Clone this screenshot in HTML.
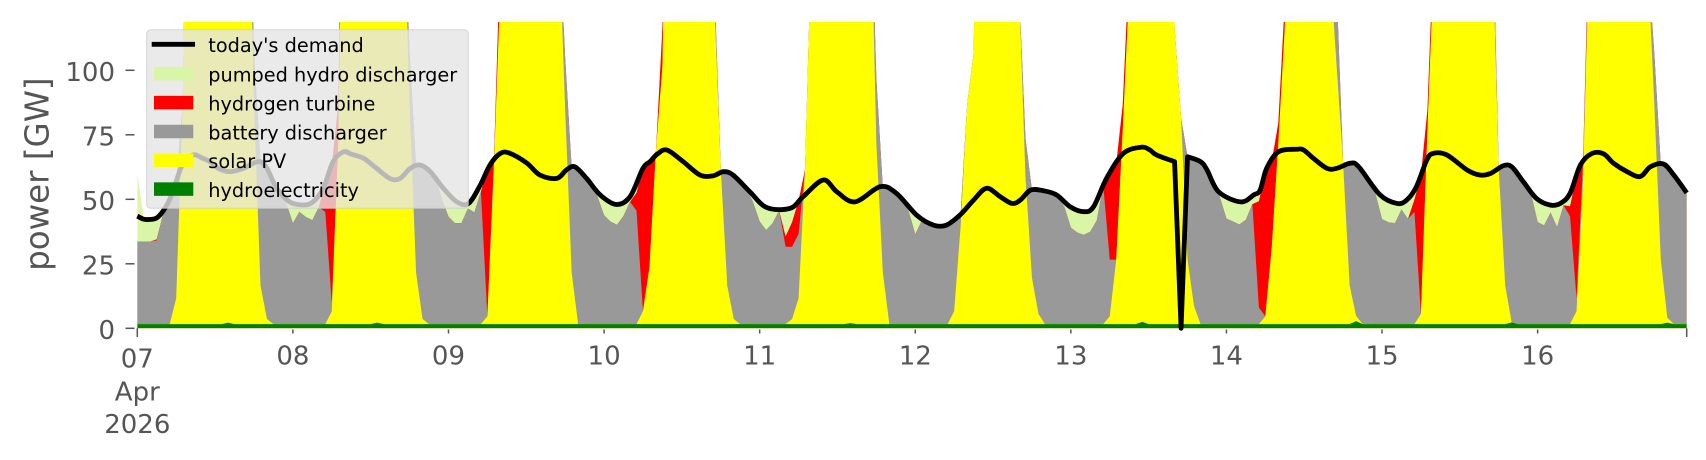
<!DOCTYPE html>
<html><head><meta charset="utf-8">
<style>
html,body{margin:0;padding:0;background:#fff;width:1706px;height:460px;overflow:hidden}
svg{display:block}
.t{font-family:"DejaVu Sans","Liberation Sans",sans-serif}
</style></head><body>
<svg id="s" width="1706" height="460" viewBox="0 0 1706 460" xmlns="http://www.w3.org/2000/svg">
<defs><clipPath id="cp"><rect x="137.3" y="22" width="1549.4" height="306.3"/></clipPath></defs>
<rect width="1706" height="460" fill="#fff"/>
<g id="areas" clip-path="url(#cp)"></g>
<path id="dl" fill="none" stroke="#000" stroke-width="4.8" stroke-linejoin="round" d=""/>

<g stroke="#555" stroke-width="1.5">
<line x1="125.5" x2="134.5" y1="328.3" y2="328.3"/>
<line x1="125.5" x2="134.5" y1="263.8" y2="263.8"/>
<line x1="125.5" x2="134.5" y1="199.3" y2="199.3"/>
<line x1="125.5" x2="134.5" y1="134.8" y2="134.8"/>
<line x1="125.5" x2="134.5" y1="70.3" y2="70.3"/>
<line x1="137.3" x2="137.3" y1="328.3" y2="337"/>
<line x1="1686.7" x2="1686.7" y1="328.3" y2="337"/>
<line x1="292.89" x2="292.89" y1="329.5" y2="333.5"/>
<line x1="448.48" x2="448.48" y1="329.5" y2="333.5"/>
<line x1="604.08" x2="604.08" y1="329.5" y2="333.5"/>
<line x1="759.67" x2="759.67" y1="329.5" y2="333.5"/>
<line x1="915.26" x2="915.26" y1="329.5" y2="333.5"/>
<line x1="1070.85" x2="1070.85" y1="329.5" y2="333.5"/>
<line x1="1226.44" x2="1226.44" y1="329.5" y2="333.5"/>
<line x1="1382.04" x2="1382.04" y1="329.5" y2="333.5"/>
<line x1="1537.63" x2="1537.63" y1="329.5" y2="333.5"/>
</g>

<g class="t" fill="#555" font-size="26" text-anchor="end">
<text x="115" y="338.8">0</text>
<text x="115" y="274.3">25</text>
<text x="115" y="209.8">50</text>
<text x="115" y="145.3">75</text>
<text x="115" y="80.8">100</text>
</g>
<g class="t" fill="#555" font-size="26" text-anchor="middle">
<text x="137.3" y="367.5">07</text>
<text x="137.3" y="400.5">Apr</text>
<text x="137.3" y="433">2026</text>
<text x="292.89" y="364.5">08</text>
<text x="448.48" y="364.5">09</text>
<text x="604.08" y="364.5">10</text>
<text x="759.67" y="364.5">11</text>
<text x="915.26" y="364.5">12</text>
<text x="1070.85" y="364.5">13</text>
<text x="1226.44" y="364.5">14</text>
<text x="1382.04" y="364.5">15</text>
<text x="1537.63" y="364.5">16</text>
</g>
<text class="t" transform="translate(48.3,174.2) rotate(-90)" text-anchor="middle" font-size="32.5" fill="#555">power [GW]</text>

<rect x="146.7" y="29.8" width="321.6" height="178.5" rx="4" ry="4" fill="#e5e5e5" fill-opacity="0.8" stroke="#cccccc" stroke-opacity="0.8" stroke-width="1"/>
<line x1="151.7" x2="195" y1="44.3" y2="44.3" stroke="#000" stroke-width="4.8"/>
<rect x="154" y="66.95" width="39.3" height="13.5" fill="#d9f5a6"/>
<rect x="154" y="95.85" width="39.3" height="13.5" fill="#ff0000"/>
<rect x="154" y="124.75" width="39.3" height="13.5" fill="#999999"/>
<rect x="154" y="153.55" width="39.3" height="13.5" fill="#ffff00"/>
<rect x="154" y="182.35" width="39.3" height="13.5" fill="#008000"/>
<g class="t" fill="#000" font-size="19.3">
<text x="208.3" y="52.1">today's demand</text>
<text x="208.3" y="81.5">pumped hydro discharger</text>
<text x="208.3" y="110.4">hydrogen turbine</text>
<text x="208.3" y="139.3">battery discharger</text>
<text x="208.3" y="168.1">solar PV</text>
<text x="208.3" y="196.9">hydroelectricity</text>
</g>
</svg>
<script>
(function(){
var X0=137.3,PH=6.483,Y0=328.3,PV=2.58;
function X(t){return X0+t*PH}
function Y(v){return Y0-v*PV}
var dk=[[0,43.5],[1,42.3],[2,42.2],[3,42.8],[4,45.5],[5,50],[6,57],[7,63.5],[8.6,67.2],[10,66],[11.2,64.6],[12.5,62],[14.3,60.7],[16.4,62],[17.5,63.5],[18.9,64.6],[20,62],[21.5,54.3],[23.5,49],[25.6,47.8],[27.1,49],[28.7,54.3],[30.2,64.6],[31.8,68.4],[33,67.5],[34.9,65.9],[36.9,62],[39,58],[40.5,58],[42.1,62],[43.6,63.3],[45.2,60.7],[47.2,54.3],[49.3,49],[51.1,48.4],[52.9,55.5],[54.4,63.3],[56,67.8],[57.5,67.8],[60.1,64],[62.1,59.4],[64.7,58.1],[66.2,61.4],[67.5,62.6],[69.3,58.1],[71.4,51.7],[73.9,48],[76,51],[78,62],[79.1,64.6],[80.2,67.5],[81.7,69.1],[84.2,64.6],[86.8,59.4],[88.8,59.1],[90.4,60.7],[91.9,59.4],[94.5,52.9],[97.1,46.8],[100.7,46.5],[102.7,51],[105.8,57.5],[107.9,52.9],[110.7,49],[114.6,54.9],[117.1,52.3],[120.2,43.9],[122.8,40],[124.8,40],[126.9,43.9],[129,49.7],[131,54.3],[133.1,51],[134.9,48.4],[136.2,49.7],[137.8,53.6],[139.8,53.3],[141.8,51.7],[143.9,47.1],[146,45.2],[147.5,47.1],[149.5,58.1],[152.1,67.8],[154.9,70.2],[156.2,69.1],[157.2,67.2],[160,64.6],[161,0],[162,66.5],[164,64.6],[165,61.4],[166.8,52.9],[170.2,49],[172.2,51.7],[173.2,53.6],[174.2,62],[176,68.4],[178.8,69.4],[179.9,69.1],[181.4,65.9],[183.5,62],[185,62],[187.1,64],[188.4,62.6],[191.7,51.7],[194.3,48.4],[195.8,49.7],[197.3,54.9],[198.9,65.2],[199.9,67.8],[202,67.2],[205.1,61.4],[207.1,59.4],[208.7,60],[210.7,63],[212,62.6],[213.8,56.8],[215.8,50.4],[217.9,47.8],[219.5,48.4],[221,52.3],[222.6,63.3],[224.4,67.8],[226.2,67.6],[227.7,64],[229.8,60.7],[231.8,58.8],[233.4,62.6],[235.4,63.7],[237,59.4],[239,52.5]];
function D(t){for(var i=0;i<dk.length-1;i++){if(t<=dk[i+1][0]){var a=dk[i],b=dk[i+1];return a[1]+(b[1]-a[1])*(t-a[0])/(b[0]-a[0]);}}return dk[dk.length-1][1];}
var N=240,S=[],P=[],i,h,k;
for(i=0;i<N;i++){S[i]=0;P[i]=0;}
var sol=[
[{6:10,7:85},8,16,{17:200,18:85,19:15,20:2}],
[{30:5,31:70},32,40,{41:170,42:85,43:20,44:2}],
[{54:3,55:60,56:130},57,64,{65:155,66:83,67:20}],
[{78:5,79:22,80:67,81:100},82,88,{89:125,90:60,91:15,92:2}],
[{101:2,102:10,103:60,104:150},105,112,{113:180,114:70,115:20}],
[{126:5,127:38,128:85,129:105},130,135,{136:130,137:57,138:18,139:4}],
[{150:3,151:25,152:75,153:130},154,159,{160:115,161:80,162:25,163:7}],
[{174:3,175:30,176:70,177:115,178:200},179,183,{184:138,185:100,186:62,187:15,188:2}],
[{198:4,199:75,200:140},201,208,{209:150,210:60,211:15}],
[{222:5,223:55,224:150},225,232,{233:140,234:85,235:25,236:2}]
];
sol.forEach(function(d){for(k in d[0])S[+k]=d[0][k];for(h=d[1];h<=d[2];h++)S[h]=250;for(k in d[3])S[+k]=d[3][k];});
var Pv={0:26.4,1:8.7,2:8.6,3:8.3,4:1,
23:2,24:8,25:3,26:5,27:7,28:5,
47:5,48:9,49:9,50:8,51:2,52:7,53:3,
71:2,72:7,73:8,74:8,75:6,76:2,77:4,
95:3,96:8,97:9,98:6,99:1,100:11,101:6,
119:2,120:8,121:1,
143:2,144:8,145:9,146:9,147:9,148:8,
167:2,168:9,169:9,170:9,171:8,172:3.3,173:4,
191:2,192:9,193:9,194:8,195:3,196:8,197:4,
215:1,216:9,217:9,218:3,219:9,220:2,221:5};
for(k in Pv)P[+k]=Pv[k];
var Bs={0:32,1:32,2:32,3:32.5,29:43.5,30:3,54:0,77:44,78:0,79:0,100:30,101:28,102:25,150:22,151:0,173:6.5,174:0,175:0,197:43.5,198:0,221:41.8,222:5};
var Hs={31:15,32:10,56:15,81:15,82:10,152:10,153:10,176:8,177:10,199:8,200:10,224:10};
var Bx={18:20,42:20,66:20,89:8,114:25,137:15,185:30,209:15,234:20};
var Hy={14:2.2,37:2.2,110:2.0,155:2.5,188:2.8,212:2.3,236:2.2};
var c=[[],[],[],[],[]];
for(h=0;h<N;h++){
 var d=D(h),hy=(h in Hy)?Hy[h]:1.6,s=S[h],p=P[h],b,hh;
 if(h in Bs){b=Bs[h];hh=(h in Hs)?Hs[h]:Math.max(0,d-hy-s-b-p);}
 else{hh=(h in Hs)?Hs[h]:0;b=Math.max(0,d-hy-s-hh-p);}
 b+=(Bx[h]||0);
 c[0][h]=hy;c[1][h]=hy+s;c[2][h]=c[1][h]+b;c[3][h]=c[2][h]+hh;c[4][h]=c[3][h]+p;
}
var cols=['#008000','#ffff00','#999999','#ff0000','#d9f5a6'];
var g=document.getElementById('areas'),NS='http://www.w3.org/2000/svg';
for(var L=4;L>=0;L--){
 var pts=[];
 for(h=0;h<N;h++)pts.push(X(h).toFixed(2)+','+Y(c[L][h]).toFixed(2));
 pts.push(X(N-1).toFixed(2)+','+Y0);pts.push(X(0).toFixed(2)+','+Y0);
 var e=document.createElementNS(NS,'polygon');
 e.setAttribute('points',pts.join(' '));e.setAttribute('fill',cols[L]);
 g.appendChild(e);
}
function f(n){return n.toFixed(2)}
function chain(arr,first){
 var P2=arr.map(function(q){return [X(q[0]),Y(q[1])]});
 var s=(first?'M':'L')+f(P2[0][0])+','+f(P2[0][1]);
 for(var j=0;j<P2.length-1;j++){
  var p0=P2[j-1]||P2[j],p1=P2[j],p2=P2[j+1],p3=P2[j+2]||P2[j+1];
  var c1x=p1[0]+(p2[0]-p0[0])/6,c1y=p1[1]+(p2[1]-p0[1])/6;
  var c2x=p2[0]-(p3[0]-p1[0])/6,c2y=p2[1]-(p3[1]-p1[1])/6;
  s+='C'+f(c1x)+','+f(c1y)+' '+f(c2x)+','+f(c2y)+' '+f(p2[0])+','+f(p2[1]);
 }
 return s;
}
var si=0;for(i=0;i<dk.length;i++){if(dk[i][0]===161){si=i;break;}}
var A=dk.slice(0,si),B=dk.slice(si+1);
var path=chain(A,true)+'L'+f(X(161))+','+f(Y(0))+chain(B,false);
document.getElementById('dl').setAttribute('d',path);
})();
</script>
</body></html>
